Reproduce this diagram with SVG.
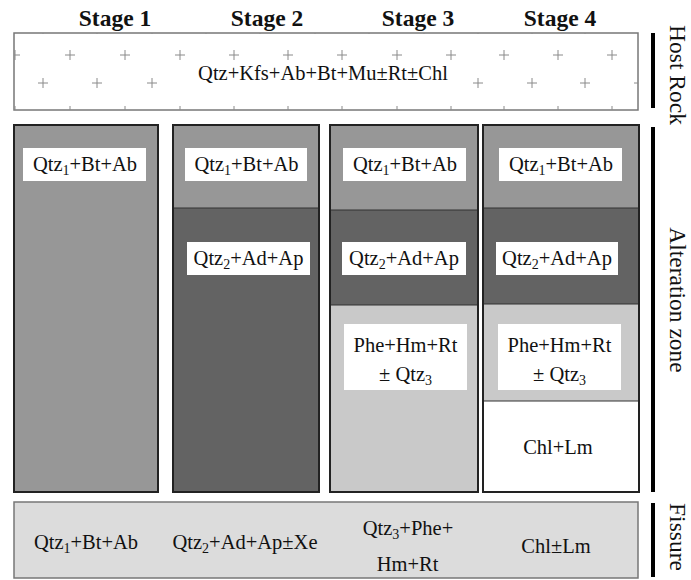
<svg xmlns="http://www.w3.org/2000/svg" width="691" height="580" viewBox="0 0 691 580">
<style>
text{font-family:"Liberation Serif","Times New Roman",serif;fill:#111}
.stage{font-size:23.5px;font-weight:bold;text-anchor:middle}
.lbl{font-size:20.5px;text-anchor:middle}
.side{font-size:23.5px;text-anchor:middle}
.plus{stroke:#8a8a8a;stroke-width:1;fill:none}
.col{stroke:#222;stroke-width:2}
.sec{stroke:#333;stroke-width:1.2}
.box{fill:#fff}
.bar{fill:#000}
</style>
<defs>
<clipPath id="hrclip"><rect x="14" y="33" width="624" height="77"/></clipPath>
<path id="p" d="M-5 0H5M0 -5V5"/>
</defs>

<g id="stage-headers">
<text class="stage" x="115" y="26">Stage 1</text>
<text class="stage" x="267" y="26">Stage 2</text>
<text class="stage" x="418" y="26">Stage 3</text>
<text class="stage" x="560" y="26">Stage 4</text>
</g>

<g id="host-rock">
<rect x="14" y="33" width="624" height="77" fill="#fff" stroke="#777" stroke-width="1.5"/>
<g class="plus" clip-path="url(#hrclip)">
<use href="#p" x="15" y="55"/><use href="#p" x="70" y="55"/><use href="#p" x="125" y="55"/><use href="#p" x="180" y="55"/><use href="#p" x="234" y="55"/><use href="#p" x="288" y="55"/><use href="#p" x="342" y="55"/><use href="#p" x="397" y="55"/><use href="#p" x="451" y="55"/><use href="#p" x="504" y="55"/><use href="#p" x="558" y="55"/><use href="#p" x="612" y="55"/>
<use href="#p" x="43" y="83"/><use href="#p" x="97" y="83"/><use href="#p" x="152" y="83"/><use href="#p" x="478" y="83"/><use href="#p" x="532" y="83"/><use href="#p" x="585" y="83"/><use href="#p" x="639" y="83"/>
<use href="#p" x="43" y="29"/><use href="#p" x="97" y="29"/><use href="#p" x="152" y="29"/><use href="#p" x="206" y="29"/><use href="#p" x="260" y="29"/><use href="#p" x="315" y="29"/><use href="#p" x="369" y="29"/><use href="#p" x="424" y="29"/><use href="#p" x="478" y="29"/><use href="#p" x="532" y="29"/><use href="#p" x="585" y="29"/>
<use href="#p" x="15" y="111"/><use href="#p" x="70" y="111"/><use href="#p" x="125" y="111"/><use href="#p" x="180" y="111"/><use href="#p" x="234" y="111"/><use href="#p" x="288" y="111"/><use href="#p" x="342" y="111"/><use href="#p" x="397" y="111"/><use href="#p" x="451" y="111"/><use href="#p" x="504" y="111"/><use href="#p" x="558" y="111"/><use href="#p" x="612" y="111"/>
</g>
<text class="lbl" x="323" y="80">Qtz+Kfs+Ab+Bt+Mu±Rt±Chl</text>
</g>

<g id="stage1">
<rect class="col" x="14" y="125" width="144" height="367" fill="#979797"/>
<rect class="box" x="23" y="148" width="123" height="33"/>
<text class="lbl" x="85" y="171">Qtz<tspan font-size="14" dy="4">1</tspan><tspan dy="-4">+Bt+Ab</tspan></text>
</g>

<g id="stage2">
<rect x="173" y="125" width="146" height="83" fill="#979797"/>
<rect x="173" y="208" width="146" height="284" fill="#636363"/>
<line class="sec" x1="173" y1="208" x2="319" y2="208"/>
<rect class="col" x="173" y="125" width="146" height="367" fill="none"/>
<rect class="box" x="185" y="148" width="122" height="33"/>
<text class="lbl" x="246.5" y="171">Qtz<tspan font-size="14" dy="4">1</tspan><tspan dy="-4">+Bt+Ab</tspan></text>
<rect class="box" x="187" y="242" width="123" height="33"/>
<text class="lbl" x="248.5" y="265">Qtz<tspan font-size="14" dy="4">2</tspan><tspan dy="-4">+Ad+Ap</tspan></text>
</g>

<g id="stage3">
<rect x="330" y="125" width="148" height="85" fill="#979797"/>
<rect x="330" y="210" width="148" height="95" fill="#636363"/>
<rect x="330" y="305" width="148" height="187" fill="#c9c9c9"/>
<line class="sec" x1="330" y1="210" x2="478" y2="210"/>
<line class="sec" x1="330" y1="305" x2="478" y2="305"/>
<rect class="col" x="330" y="125" width="148" height="367" fill="none"/>
<rect class="box" x="343" y="148" width="123" height="33"/>
<text class="lbl" x="405" y="171">Qtz<tspan font-size="14" dy="4">1</tspan><tspan dy="-4">+Bt+Ab</tspan></text>
<rect class="box" x="342" y="242" width="124" height="33"/>
<text class="lbl" x="404" y="265">Qtz<tspan font-size="14" dy="4">2</tspan><tspan dy="-4">+Ad+Ap</tspan></text>
<rect class="box" x="344" y="324" width="123" height="66"/>
<text class="lbl" x="405.5" y="352">Phe+Hm+Rt</text>
<text class="lbl" x="405.5" y="381">± Qtz<tspan font-size="14" dy="4">3</tspan></text>
</g>

<g id="stage4">
<rect x="483" y="125" width="156" height="83" fill="#979797"/>
<rect x="483" y="208" width="156" height="96" fill="#636363"/>
<rect x="483" y="304" width="156" height="97" fill="#c9c9c9"/>
<rect x="483" y="401" width="156" height="91" fill="#fff"/>
<line class="sec" x1="483" y1="208" x2="639" y2="208"/>
<line class="sec" x1="483" y1="304" x2="639" y2="304"/>
<line class="sec" x1="483" y1="401" x2="639" y2="401"/>
<rect class="col" x="483" y="125" width="156" height="367" fill="none"/>
<rect class="box" x="499" y="148" width="123" height="33"/>
<text class="lbl" x="561" y="171">Qtz<tspan font-size="14" dy="4">1</tspan><tspan dy="-4">+Bt+Ab</tspan></text>
<rect class="box" x="496" y="242" width="122" height="33"/>
<text class="lbl" x="557" y="265">Qtz<tspan font-size="14" dy="4">2</tspan><tspan dy="-4">+Ad+Ap</tspan></text>
<rect class="box" x="498" y="324" width="123" height="66"/>
<text class="lbl" x="559.5" y="352">Phe+Hm+Rt</text>
<text class="lbl" x="559.5" y="381">± Qtz<tspan font-size="14" dy="4">3</tspan></text>
<text class="lbl" x="558" y="454">Chl+Lm</text>
</g>

<g id="fissure">
<rect x="14" y="502" width="624" height="76" fill="#dcdcdc" stroke="#777" stroke-width="1.5"/>
<text class="lbl" x="86" y="549">Qtz<tspan font-size="14" dy="4">1</tspan><tspan dy="-4">+Bt+Ab</tspan></text>
<text class="lbl" x="245" y="549">Qtz<tspan font-size="14" dy="4">2</tspan><tspan dy="-4">+Ad+Ap±Xe</tspan></text>
<text class="lbl" x="408" y="535">Qtz<tspan font-size="14" dy="4">3</tspan><tspan dy="-4">+Phe+</tspan></text>
<text class="lbl" x="407.5" y="571">Hm+Rt</text>
<text class="lbl" x="556" y="553">Chl±Lm</text>
</g>

<g id="side-labels">
<rect class="bar" x="651" y="33" width="4" height="75"/>
<rect class="bar" x="651" y="127" width="4" height="365"/>
<rect class="bar" x="651" y="503" width="4" height="74"/>
<text class="side" transform="translate(670 75) rotate(90)">Host Rock</text>
<text class="side" transform="translate(670 300) rotate(90)">Alteration zone</text>
<text class="side" transform="translate(670 537) rotate(90)">Fissure</text>
</g>
</svg>
